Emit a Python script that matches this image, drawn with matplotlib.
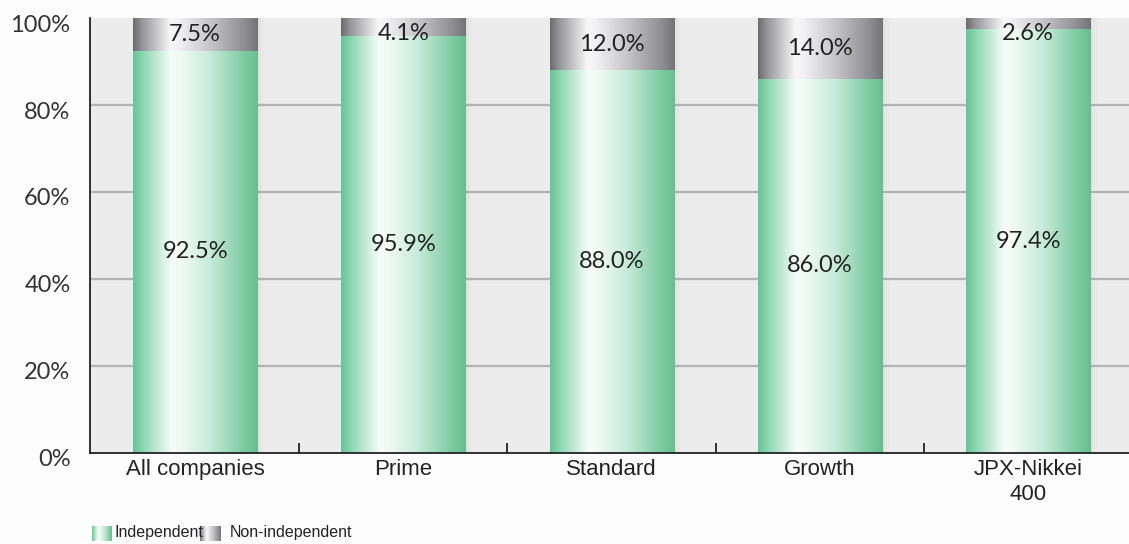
import numpy as np
import matplotlib.pyplot as plt
from matplotlib.colors import LinearSegmentedColormap
from matplotlib.transforms import ScaledTranslation

# Data
categories = ["All companies", "Prime", "Standard", "Growth", "JPX-Nikkei\n400"]
independent = [92.5, 95.9, 88.0, 86.0, 97.4]
non_independent = [7.5, 4.1, 12.0, 14.0, 2.6]
yticks = [0, 20, 40, 60, 80, 100]
ytick_labels = ["0%", "20%", "40%", "60%", "80%", "100%"]

# horizontal "cylinder" gradients
green_cmap = LinearSegmentedColormap.from_list("green", [
    (0.00, (0.40, 0.77, 0.59)),
    (0.08, (0.55, 0.84, 0.69)),
    (0.30, (0.96, 0.99, 0.97)),
    (0.38, (0.95, 0.98, 0.96)),
    (0.62, (0.78, 0.92, 0.85)),
    (0.88, (0.50, 0.80, 0.64)),
    (1.00, (0.40, 0.75, 0.57)),
])
gray_cmap = LinearSegmentedColormap.from_list("gray", [
    (0.00, (0.42, 0.42, 0.44)),
    (0.08, (0.60, 0.60, 0.62)),
    (0.30, (0.97, 0.97, 0.97)),
    (0.38, (0.94, 0.94, 0.95)),
    (0.64, (0.76, 0.76, 0.77)),
    (0.90, (0.55, 0.55, 0.57)),
    (1.00, (0.45, 0.45, 0.47)),
])
grad = np.linspace(0, 1, 256).reshape(1, -1)


def fill_gradient(ax, bars, cmap):
    for b in bars:
        x0, y0 = b.get_x(), b.get_y()
        w, h = b.get_width(), b.get_height()
        ax.imshow(grad, cmap=cmap, extent=[x0, x0 + w, y0, y0 + h],
                  aspect="auto", interpolation="bicubic", zorder=3)
        # soft shadow on the right side
        for i, a in enumerate([0.10, 0.07, 0.04, 0.02]):
            ax.add_patch(plt.Rectangle((x0 + w + i * 0.008, y0), 0.008, h,
                                       color="#707080", alpha=a, lw=0, zorder=2))


fig = plt.figure(figsize=(11.29, 5.44), dpi=100)
fig.patch.set_facecolor("#fdfdfd")
ax = fig.add_axes([0.0797, 0.1673, 0.9203, 0.7996])
ax.set_facecolor("#ececec")

x = np.arange(len(categories))
width = 0.596
b1 = ax.bar(x, independent, width, color="none", zorder=3)
b2 = ax.bar(x, non_independent, width, bottom=independent, color="none", zorder=3)
fill_gradient(ax, b1, green_cmap)
fill_gradient(ax, b2, gray_cmap)

ax.set_xlim(-0.505, 4.485)
ax.set_ylim(0, 100)

# gridlines
for y in yticks[1:-1]:
    ax.axhline(y, color="#b4b4b6", lw=1.6, zorder=1)

# value labels
for i in range(len(categories)):
    ax.text(x[i], independent[i] / 2, f"{independent[i]:.1f}%", ha="center", va="center",
            fontsize=17, family="Lato", color="#222222", zorder=5)
    ytop = min(100 - non_independent[i] / 2, 96.5)
    ax.text(x[i], ytop, f"{non_independent[i]:.1f}%", ha="center", va="center",
            fontsize=17, family="Lato", color="#222222", zorder=5)

# axes styling
for s in ["top", "right"]:
    ax.spines[s].set_visible(False)
for s in ["left", "bottom"]:
    ax.spines[s].set_color("#222222")
    ax.spines[s].set_linewidth(1.3)
    ax.spines[s].set_zorder(6)

ax.set_yticks(yticks)
ax.set_yticklabels(ytick_labels, family="Lato", fontsize=17, color="#333333")
ax.tick_params(axis="y", length=0, pad=14)
off = ScaledTranslation(0, -5 / 100, fig.dpi_scale_trans)
for lbl in ax.get_yticklabels():
    lbl.set_transform(lbl.get_transform() + off)

ax.set_xticks(x)
ax.set_xticklabels(categories, family="Liberation Sans", fontsize=16, color="#222222",
                   linespacing=1.25)
ax.tick_params(axis="x", length=0, pad=4)
# separator ticks between categories
ax.set_xticks(x[:-1] + 0.5, minor=True)
ax.tick_params(axis="x", which="minor", direction="in", length=7, width=1.3, color="#222222")

# legend
lg1 = fig.add_axes([92 / 1129, 1 - 541 / 544, 20 / 1129, 15 / 544])
lg1.imshow(grad, cmap=green_cmap, aspect="auto")
lg1.axis("off")
fig.text(115 / 1129, 1 - 533 / 544, "Independent", family="Liberation Sans",
         fontsize=11.5, color="#222222", va="center")
lg2 = fig.add_axes([200 / 1129, 1 - 541 / 544, 20 / 1129, 15 / 544])
lg2.imshow(grad, cmap=gray_cmap, aspect="auto")
lg2.axis("off")
fig.text(230 / 1129, 1 - 533 / 544, "Non-independent", family="Liberation Sans",
         fontsize=11.5, color="#222222", va="center")

fig.savefig("out.png", dpi=100, facecolor=fig.get_facecolor())
